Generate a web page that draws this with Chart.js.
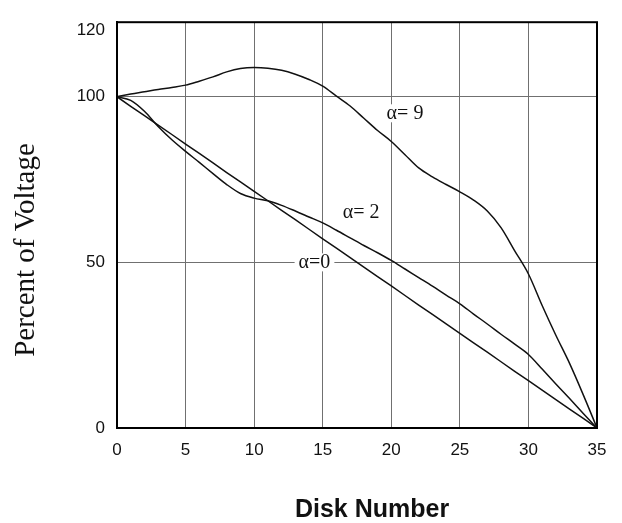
<!DOCTYPE html>
<html>
<head>
<meta charset="utf-8">
<script src="https://cdn.jsdelivr.net/npm/chart.js@4"></script>
<style>
  html, body { margin: 0; padding: 0; background: #fff; }
  #wrap { width: 622px; height: 523px; }
</style>
</head>
<body>
<div id="wrap"><canvas id="chart" width="622" height="523"></canvas></div>
<script>
const diskNumbers = [0, 1, 2, 3, 4, 5, 6, 7, 8, 9, 10, 11, 12, 13, 14, 15, 16, 17,
    18, 19, 20, 21, 22, 23, 24, 25, 26, 27, 28, 29, 30, 31, 32, 33, 34, 35];

const alpha9 = [100, 100.8, 101.5, 102.2, 102.8, 103.5, 104.7, 106, 107.5, 108.5,
    108.8, 108.6, 108, 106.8, 105.2, 103.2, 100.2, 97.2, 93.5, 89.8, 86.5, 82.5,
    78.5, 75.8, 73.5, 71.3, 68.8, 65.5, 60.5, 53.5, 46.5, 37, 28, 19.5, 10, 0];

const alpha2 = [100, 98.9, 95.6, 91, 87, 83.5, 80.2, 76.8, 73.5, 70.8, 69.4, 68.6,
    67.2, 65.5, 63.7, 61.9, 59.7, 57.4, 55.1, 52.9, 50.6, 48, 45.4, 42.8, 40.1,
    37.5, 34.4, 31.4, 28.3, 25.3, 22.2, 17.8, 13.3, 8.9, 4.4, 0];

const alpha0 = [100, 97.1, 94.3, 91.4, 88.6, 85.7, 82.9, 80, 77.1, 74.3, 71.4, 68.6,
    65.7, 62.9, 60, 57.1, 54.3, 51.4, 48.6, 45.7, 42.9, 40, 37.1, 34.3, 31.4, 28.6,
    25.7, 22.9, 20, 17.1, 14.3, 11.4, 8.6, 5.7, 2.9, 0];

const yTicks = [0, 50, 100, 120];

function toPoints(values) {
    return values.map((v, i) => ({ x: diskNumbers[i], y: v }));
}

// curve labels, placed in data coordinates
const curveLabels = [
    { text: 'α= 9', x: 21.0, y: 95 },
    { text: 'α= 2', x: 17.8, y: 65 },
    { text: 'α=0', x: 14.4, y: 50 }
];

const extras = {
    id: 'extras',
    afterDatasetsDraw(chart) {
        const ctx = chart.ctx;
        const xs = chart.scales.x;
        const ys = chart.scales.y;
        ctx.save();
        ctx.font = '20px "Liberation Serif"';
        ctx.textAlign = 'center';
        ctx.textBaseline = 'middle';
        curveLabels.forEach(l => {
            const px = xs.getPixelForValue(l.x);
            const py = ys.getPixelForValue(l.y);
            const w = ctx.measureText(l.text).width;
            ctx.fillStyle = '#fff';
            ctx.fillRect(px - w / 2 - 4, py - 9, w + 8, 18);
            ctx.fillStyle = '#111';
            ctx.fillText(l.text, px, py);
        });
        ctx.restore();
    },
    afterDraw(chart) {
        const ctx = chart.ctx;
        const a = chart.chartArea;
        ctx.save();
        ctx.strokeStyle = '#000';
        ctx.lineWidth = 2;
        ctx.strokeRect(a.left, a.top, a.right - a.left, a.bottom - a.top);

        ctx.fillStyle = '#111';
        ctx.textAlign = 'center';
        ctx.textBaseline = 'middle';
        ctx.font = 'bold 25px "Liberation Sans"';
        ctx.fillText('Disk Number', 372, 510);

        ctx.translate(26, 250);
        ctx.rotate(-Math.PI / 2);
        ctx.font = '29px "Liberation Serif"';
        ctx.fillText('Percent of Voltage', 0, 0);
        ctx.restore();
    }
};

const lineStyle = {
    borderColor: '#111',
    borderWidth: 1.5,
    pointRadius: 0,
    fill: false
};

new Chart(document.getElementById('chart'), {
    type: 'line',
    data: {
        datasets: [
            { label: 'α=9', data: toPoints(alpha9), cubicInterpolationMode: 'monotone', ...lineStyle },
            { label: 'α=2', data: toPoints(alpha2), cubicInterpolationMode: 'monotone', ...lineStyle },
            { label: 'α=0', data: toPoints(alpha0), tension: 0, ...lineStyle }
        ]
    },
    plugins: [extras],
    options: {
        responsive: false,
        animation: false,
        layout: { padding: { left: 0, right: 25, top: 14, bottom: 0 } },
        plugins: { legend: { display: false }, tooltip: { enabled: false } },
        scales: {
            x: {
                type: 'linear',
                min: 0,
                max: 35,
                afterFit: s => { s.height = 95; },
                ticks: {
                    stepSize: 5,
                    padding: 12,
                    color: '#111',
                    font: { family: 'Liberation Sans', size: 17 }
                },
                grid: { color: '#707070', lineWidth: 1, drawTicks: false },
                border: { color: '#000', width: 2 }
            },
            y: {
                type: 'linear',
                min: 0,
                max: 122.5,
                afterFit: s => { s.width = 117; },
                afterBuildTicks: s => { s.ticks = yTicks.map(v => ({ value: v })); },
                ticks: {
                    padding: 12,
                    color: '#111',
                    font: { family: 'Liberation Sans', size: 17 }
                },
                grid: {
                    color: c => (c.tick && c.tick.value === 120) ? 'rgba(0,0,0,0)' : '#707070',
                    lineWidth: 1,
                    drawTicks: false
                },
                border: { color: '#000', width: 2 }
            }
        }
    }
});
</script>
</body>
</html>
